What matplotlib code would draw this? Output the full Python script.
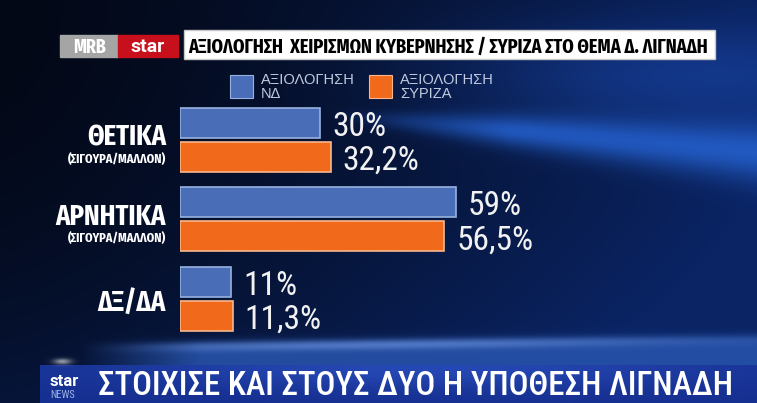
import numpy as np
import matplotlib
matplotlib.use('Agg')
import matplotlib.pyplot as plt
from matplotlib.patches import Rectangle

# data
categories = ['ΘΕΤΙΚΑ', 'ΑΡΝΗΤΙΚΑ', 'ΔΞ/ΔΑ']
subtitles = ['(ΣΙΓΟΥΡΑ/ΜΑΛΛΟΝ)', '(ΣΙΓΟΥΡΑ/ΜΑΛΛΟΝ)', '']
nd_values = [30, 59, 11]
syriza_values = [32.2, 56.5, 11.3]
series_names = ['ΑΞΙΟΛΟΓΗΣΗ\nΝΔ', 'ΑΞΙΟΛΟΓΗΣΗ\nΣΥΡΙΖΑ']
title = 'ΑΞΙΟΛΟΓΗΣΗ  ΧΕΙΡΙΣΜΩΝ ΚΥΒΕΡΝΗΣΗΣ / ΣΥΡΙΖΑ ΣΤΟ ΘΕΜΑ Δ. ΛΙΓΝΑΔΗ'
ticker = 'ΣΤΟΙΧΙΣΕ ΚΑΙ ΣΤΟΥΣ ΔΥΟ Η ΥΠΟΘΕΣΗ ΛΙΓΝΑΔΗ'

blue = '#4a6db8'
blue_edge = '#98b2e0'
orange = '#f16a1c'
orange_edge = '#f8b68c'

xcond = ['Fira Sans Extra Condensed', 'DejaVu Sans']
cond = ['Roboto Condensed', 'DejaVu Sans']
plain = ['Liberation Sans', 'DejaVu Sans']

W, H = 757, 403
fig = plt.figure(figsize=(W / 100, H / 100), dpi=100)
renderer = fig.canvas.get_renderer()

def fit(t, target, maxsize):
    w = t.get_window_extent(renderer).width
    t.set_fontsize(min(t.get_fontsize() * target / w, maxsize))
    return t.get_fontsize()

# background in pixel coordinates
bg = fig.add_axes([0, 0, 1, 1])
bg.set_xlim(0, W)
bg.set_ylim(H, 0)
bg.axis('off')

yy, xx = np.mgrid[0:H, 0:W].astype(float)
dark = np.array([3, 8, 22]) / 255
mid = np.array([10, 36, 100]) / 255
t = np.clip(0.9 * (xx / W) ** 1.3 + 0.45 * (yy / H) ** 2, 0, 1)
img = dark + t[..., None] * (mid - dark)
# bright streak right of the first group
line_y = 112 + (xx - 300) * 0.085
wdt = 4 + np.clip(xx - 300, 0, None) * 0.055
streak = np.exp(-((yy - line_y) / wdt) ** 2) * np.clip((xx - 330) / 180, 0, 1)
img += streak[..., None] * (np.array([40, 105, 220]) / 255 - img) * 0.8
# upper right glow
glow = np.exp(-(((xx - 690) / 230) ** 2 + ((yy - 75) / 55) ** 2))
img += glow[..., None] * (np.array([25, 70, 170]) / 255 - img) * 0.6
# wave band above the ticker
edge = 340 - (xx - 400) * 0.012
fade = np.clip((xx - 80) / 120, 0, 1)
band = 1 / (1 + np.exp(-(yy - edge) / 2.5)) * fade
img += band[..., None] * (np.array([40, 85, 175]) / 255 - img) * 0.85
hl = np.exp(-((yy - edge - 4) / 5) ** 2) * fade * np.exp(-((xx - 380) / 300) ** 2)
img += hl[..., None] * (np.array([110, 150, 225]) / 255 - img) * 0.6
# ticker strip
tick = (yy >= 365) & (xx >= 40)
c0, c1 = np.array([22, 48, 145]) / 255, np.array([38, 72, 180]) / 255
tcol = c0 + (c1 - c0) * np.exp(-((xx - 420) / 280) ** 2)[..., None] * np.exp(-((yy - 368) / 20) ** 2)[..., None]
img = np.where(tick[..., None], tcol, img)
flare = np.exp(-(((xx - 62) / 9) ** 2 + ((yy - 361) / 3) ** 2))
img += flare[..., None] * (1 - img) * 0.55
bg.imshow(np.clip(img, 0, 1), extent=(0, W, H, 0), aspect='auto', interpolation='bilinear')

# header
bg.add_patch(Rectangle((60, 35), 58, 22, color='#a5a5a5'))
bg.add_patch(Rectangle((118, 35), 60, 22, color='#c8101c'))
bg.text(89, 53, 'MRB', color='white', fontsize=14, fontweight='bold', family=xcond, ha='center')
bg.text(148, 52, 'star', color='white', fontsize=14, fontweight='bold', family=['Roboto', 'DejaVu Sans'], ha='center')
bg.add_patch(Rectangle((184, 30), 531, 29, facecolor='white', edgecolor='#c8c8c8', lw=1))
tt = bg.text(448, 53, title, color='black', fontsize=18, fontweight='bold', family=xcond, ha='center')
fit(tt, 520, 19)

# legend
for (x0, col, ec, lab) in [(230, blue, blue_edge, series_names[0]), (369, orange, orange_edge, series_names[1])]:
    bg.add_patch(Rectangle((x0, 75), 23, 23, facecolor=col, edgecolor=ec, lw=0.8))
    bg.text(x0 + 31, 73.5, lab, color='#c0cbe0', fontsize=10.5, family=plain, va='top', linespacing=0.95)

# ticker text
bg.text(50, 386, 'star', color='white', fontsize=12, fontweight='bold', family=['Roboto', 'DejaVu Sans'])
bg.text(50, 398, 'NEWS', color='#9fb4e6', fontsize=7.5, family=cond)
tk = bg.text(98, 395, ticker, color='white', fontsize=24, fontweight='medium', family=cond)
fit(tk, 637, 25)

# bars, 0 % at x=180 px, 100 % at x=648 px
ax = fig.add_axes([180 / W, (H - 338.5) / H, 468 / W, 238.5 / H])
ax.patch.set_alpha(0)
ax.set_xlim(0, 100)
ax.set_ylim(3, 0)
ax.axis('off')

y = np.arange(len(categories)) + 0.5
off, h = 0.214, 0.377
ax.barh(y - off, nd_values, height=h, color=blue, edgecolor=blue_edge, lw=1.2)
ax.barh(y + off, syriza_values, height=h, color=orange, edgecolor=orange_edge, lw=1.2)

def fmt(v):
    return f'{v:g}'.replace('.', ',') + '%'

for ys, vals in [(y - off, nd_values), (y + off, syriza_values)]:
    for yi, v in zip(ys, vals):
        ax.annotate(fmt(v), (v, yi), xytext=(8.6, -9.4), textcoords='offset points',
                    color='#f2f2f2', fontsize=24, family=cond, va='baseline')

cat_txt, sub_txt = [], []
for yi, cat, sub in zip(y, categories, subtitles):
    dy = -4 if sub else -9.5
    cat_txt.append(ax.annotate(cat, (0, yi), xytext=(-10, dy), textcoords='offset points', ha='right',
                               va='baseline', color='white', fontsize=24, fontweight='bold', family=xcond))
    if sub:
        sub_txt.append(ax.annotate(sub, (0, yi), xytext=(-10, -16.5), textcoords='offset points', ha='right',
                                   va='baseline', color='white', fontsize=10, fontweight='bold', family=xcond))

s = fit(cat_txt[1], 110, 25)
for c in cat_txt:
    c.set_fontsize(s)
s = fit(sub_txt[0], 98, 10)
for c in sub_txt:
    c.set_fontsize(s)

fig.savefig('out.png', dpi=100)
